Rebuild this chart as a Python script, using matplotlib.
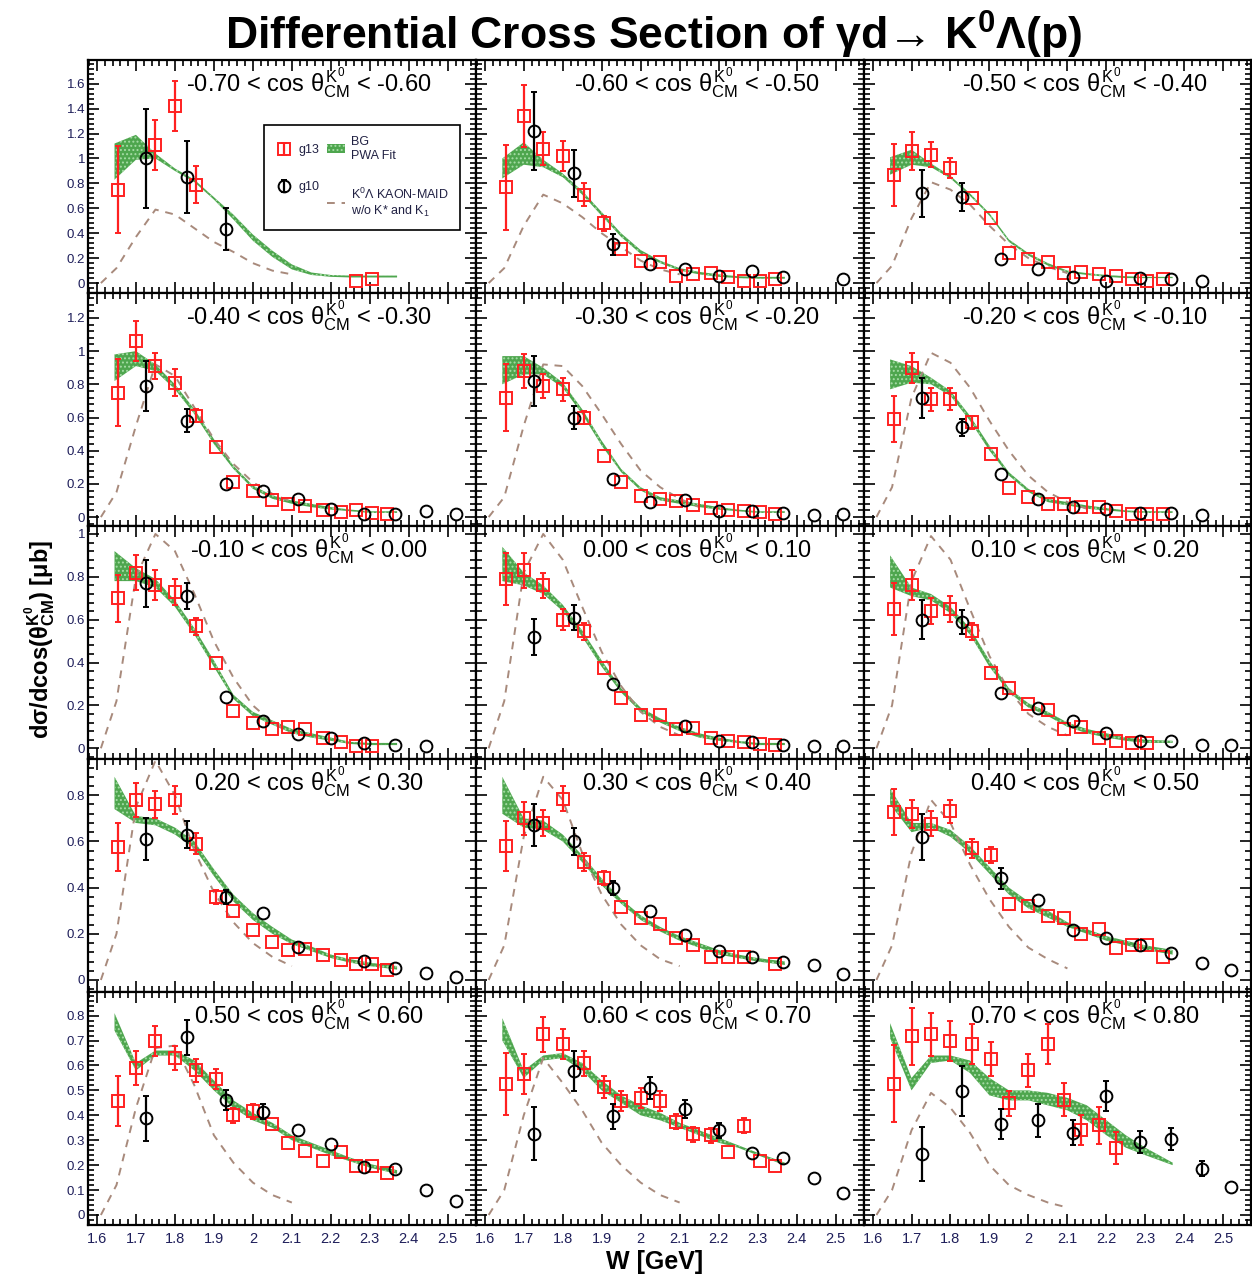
import numpy as np
import matplotlib
matplotlib.use("Agg")
import matplotlib.pyplot as plt
from matplotlib.ticker import MultipleLocator, AutoMinorLocator, FormatStrFormatter

plt.rcParams['font.family'] = ['Liberation Sans', 'DejaVu Sans']
plt.rcParams['mathtext.fontset'] = 'custom'
plt.rcParams['mathtext.rm'] = 'Liberation Sans'
plt.rcParams['mathtext.it'] = 'Liberation Sans'
plt.rcParams['mathtext.bf'] = 'Liberation Sans:bold'
plt.rcParams['hatch.linewidth'] = 0.9

nan = np.nan

# cos(theta) bins, one per panel (row major)
bins_lo = [-0.70, -0.60, -0.50, -0.40, -0.30, -0.20, -0.10, 0.00, 0.10, 0.20, 0.30, 0.40, 0.50, 0.60, 0.70]
bins_hi = [-0.60, -0.50, -0.40, -0.30, -0.20, -0.10, 0.00, 0.10, 0.20, 0.30, 0.40, 0.50, 0.60, 0.70, 0.80]

# g13 (red squares)
w_g13 = [1.655, 1.70, 1.75, 1.80, 1.855, 1.905, 1.95, 2.00, 2.05, 2.09, 2.135, 2.18, 2.225, 2.265, 2.305, 2.345]
g13_y = [
    [0.75, nan, 1.11, 1.42, 0.79, nan, nan, nan, nan, nan, nan, nan, nan, 0.02, 0.03, nan],
    [0.77, 1.34, 1.08, 1.02, 0.71, 0.48, 0.27, 0.175, 0.17, 0.055, 0.07, 0.08, 0.045, 0.02, 0.015, 0.03],
    [0.87, 1.06, 1.03, 0.92, 0.68, 0.52, 0.24, 0.19, 0.17, 0.08, 0.09, 0.07, 0.055, 0.03, 0.015, 0.03],
    [0.75, 1.06, 0.91, 0.81, 0.61, 0.42, 0.21, 0.16, 0.10, 0.08, 0.065, 0.045, 0.03, 0.04, 0.025, 0.02],
    [0.72, 0.88, 0.79, 0.77, 0.60, 0.37, 0.21, 0.126, 0.106, 0.096, 0.07, 0.056, 0.04, 0.035, 0.03, 0.02],
    [0.59, 0.90, 0.71, 0.71, 0.57, 0.38, 0.177, 0.12, 0.08, 0.076, 0.06, 0.06, 0.036, 0.02, 0.02, 0.02],
    [0.70, 0.82, 0.76, 0.73, 0.57, 0.40, 0.175, 0.12, 0.09, 0.10, 0.09, 0.046, 0.028, 0.012, 0.01, nan],
    [0.79, 0.83, 0.76, 0.60, 0.545, 0.375, 0.236, 0.156, 0.156, 0.09, 0.093, 0.05, 0.035, 0.028, 0.02, 0.015],
    [0.65, 0.76, 0.64, 0.65, 0.545, 0.35, 0.28, 0.205, 0.18, 0.09, 0.097, 0.05, 0.035, 0.025, 0.025, nan],
    [0.576, 0.78, 0.76, 0.78, 0.59, 0.36, 0.30, 0.218, 0.165, 0.13, 0.135, 0.107, 0.085, 0.07, 0.068, 0.045],
    [0.58, 0.70, 0.68, 0.785, 0.51, 0.44, 0.316, 0.27, 0.244, 0.18, 0.15, 0.10, 0.10, 0.10, nan, 0.068],
    [0.727, 0.72, 0.677, 0.73, 0.57, 0.54, 0.33, 0.32, 0.275, 0.27, 0.20, 0.22, 0.14, 0.153, 0.15, 0.10],
    [0.456, 0.59, 0.70, 0.63, 0.58, 0.544, 0.40, 0.417, 0.367, 0.29, 0.258, 0.218, 0.252, 0.197, 0.195, 0.167],
    [0.527, 0.567, 0.725, 0.687, 0.608, 0.513, 0.458, 0.47, 0.456, 0.374, 0.324, 0.32, 0.254, 0.358, 0.218, 0.197],
    [0.527, 0.717, 0.725, 0.70, 0.687, 0.626, 0.449, 0.58, 0.687, 0.463, 0.34, 0.36, 0.268, nan, nan, nan],
]
g13_err = [
    [0.35, 0, 0.20, 0.20, 0.15, 0, 0, 0, 0, 0, 0, 0, 0, 0.01, 0.01, 0],
    [0.34, 0.25, 0.13, 0.12, 0.09, 0.06, 0.03, 0.02, 0.02, 0.015, 0.015, 0.015, 0.01, 0.01, 0.01, 0.01],
    [0.25, 0.15, 0.10, 0.08, 0.05, 0.04, 0.02, 0.02, 0.02, 0.015, 0.015, 0.01, 0.01, 0.01, 0.01, 0.01],
    [0.20, 0.12, 0.08, 0.08, 0.04, 0.03, 0.02, 0.02, 0.015, 0.015, 0.01, 0.01, 0.01, 0.01, 0.01, 0.01],
    [0.20, 0.10, 0.07, 0.07, 0.04, 0.03, 0.02, 0.015, 0.015, 0.015, 0.01, 0.01, 0.01, 0.01, 0.01, 0.01],
    [0.14, 0.09, 0.07, 0.065, 0.04, 0.03, 0.02, 0.015, 0.015, 0.015, 0.01, 0.01, 0.01, 0.01, 0.01, 0.01],
    [0.11, 0.08, 0.07, 0.06, 0.04, 0.03, 0.02, 0.015, 0.015, 0.015, 0.01, 0.01, 0.01, 0.01, 0.01, 0],
    [0.12, 0.08, 0.06, 0.05, 0.04, 0.03, 0.02, 0.015, 0.015, 0.015, 0.01, 0.01, 0.01, 0.01, 0.01, 0.01],
    [0.12, 0.07, 0.06, 0.06, 0.04, 0.03, 0.02, 0.02, 0.015, 0.015, 0.01, 0.01, 0.01, 0.01, 0.01, 0],
    [0.105, 0.075, 0.06, 0.06, 0.045, 0.03, 0.025, 0.02, 0.015, 0.015, 0.015, 0.01, 0.01, 0.01, 0.01, 0.01],
    [0.11, 0.07, 0.055, 0.055, 0.04, 0.03, 0.025, 0.02, 0.02, 0.015, 0.015, 0.01, 0.01, 0.01, 0, 0.01],
    [0.10, 0.06, 0.055, 0.05, 0.04, 0.035, 0.025, 0.02, 0.02, 0.02, 0.015, 0.015, 0.015, 0.015, 0.01, 0.01],
    [0.10, 0.07, 0.06, 0.05, 0.045, 0.04, 0.03, 0.03, 0.025, 0.02, 0.02, 0.015, 0.015, 0.015, 0.015, 0.01],
    [0.125, 0.08, 0.07, 0.06, 0.05, 0.045, 0.04, 0.04, 0.04, 0.03, 0.03, 0.03, 0.025, 0.03, 0.02, 0.02],
    [0.155, 0.115, 0.085, 0.08, 0.08, 0.07, 0.05, 0.065, 0.08, 0.065, 0.06, 0.075, 0.065, 0, 0, 0],
]

# g10 (black circles)
w_g10 = [1.727, 1.83, 1.93, 2.025, 2.115, 2.20, 2.285, 2.365, 2.445, 2.52]
g10_y = [
    [1.00, 0.85, 0.435, nan, nan, nan, nan, nan, nan, nan],
    [1.22, 0.88, 0.31, 0.15, 0.11, 0.055, 0.095, 0.05, nan, 0.03],
    [0.72, 0.69, 0.19, 0.11, 0.045, 0.015, 0.04, 0.03, 0.015, nan],
    [0.79, 0.58, 0.20, 0.157, 0.11, 0.046, 0.02, 0.02, 0.036, 0.02],
    [0.82, 0.60, 0.227, 0.092, 0.10, 0.036, 0.036, 0.026, 0.012, 0.016],
    [0.72, 0.54, 0.257, 0.106, 0.06, 0.046, 0.026, 0.026, 0.012, nan],
    [0.77, 0.71, 0.24, 0.128, 0.066, 0.046, 0.025, 0.015, 0.01, nan],
    [0.52, 0.61, 0.30, nan, 0.105, 0.035, 0.028, 0.015, 0.01, 0.01],
    [0.60, 0.59, 0.256, 0.19, 0.128, 0.07, 0.035, 0.035, 0.015, 0.015],
    [0.61, 0.63, 0.36, 0.29, 0.143, nan, 0.082, 0.053, 0.03, 0.013],
    [0.67, 0.60, 0.40, 0.30, 0.196, 0.124, 0.10, 0.078, 0.064, 0.027],
    [0.62, nan, 0.44, 0.345, 0.215, 0.182, 0.15, 0.117, 0.075, 0.042],
    [0.388, 0.714, 0.463, 0.415, 0.34, 0.286, 0.193, 0.184, 0.10, 0.057],
    [0.327, 0.578, 0.397, 0.51, 0.426, 0.34, 0.249, 0.23, 0.147, 0.088],
    [0.245, 0.497, 0.365, 0.38, 0.33, 0.476, 0.293, 0.306, 0.186, 0.113],
]
g10_err = [
    [0.40, 0.29, 0.17, 0, 0, 0, 0, 0, 0, 0],
    [0.31, 0.19, 0.085, 0.03, 0.02, 0.02, 0.02, 0.015, 0, 0.01],
    [0.19, 0.11, 0.02, 0.02, 0.015, 0.01, 0.01, 0.01, 0.01, 0],
    [0.15, 0.07, 0.02, 0.02, 0.015, 0.01, 0.01, 0.01, 0.01, 0.01],
    [0.15, 0.07, 0.02, 0.015, 0.015, 0.01, 0.01, 0.01, 0.01, 0.01],
    [0.12, 0.05, 0.02, 0.015, 0.01, 0.01, 0.01, 0.01, 0.01, 0],
    [0.11, 0.06, 0.02, 0.015, 0.01, 0.01, 0.01, 0.01, 0.01, 0],
    [0.085, 0.06, 0.02, 0, 0.015, 0.01, 0.01, 0.01, 0.01, 0.01],
    [0.09, 0.055, 0.02, 0.015, 0.015, 0.01, 0.01, 0.01, 0.01, 0.01],
    [0.09, 0.06, 0.03, 0.02, 0.015, 0, 0.01, 0.01, 0.01, 0.01],
    [0.09, 0.06, 0.03, 0.02, 0.015, 0.01, 0.01, 0.01, 0.01, 0.01],
    [0.10, 0, 0.045, 0.025, 0.015, 0.015, 0.01, 0.01, 0.01, 0.01],
    [0.09, 0.07, 0.04, 0.03, 0.025, 0.015, 0.015, 0.01, 0.01, 0.01],
    [0.105, 0.08, 0.05, 0.045, 0.035, 0.03, 0.02, 0.02, 0.01, 0.01],
    [0.11, 0.10, 0.06, 0.065, 0.05, 0.06, 0.045, 0.045, 0.03, 0.01],
]

# BG PWA fit band
w_band = [1.645, 1.70, 1.75, 1.80, 1.85, 1.90, 1.95, 2.00, 2.05, 2.10, 2.15, 2.20, 2.25, 2.30, 2.37]
band_lo = [
    [0.83, 0.99, 1.00, 0.90, 0.81, 0.67, 0.51, 0.34, 0.21, 0.11, 0.065, 0.05, 0.045, 0.045, 0.045],
    [0.84, 0.95, 0.93, 0.85, 0.71, 0.54, 0.37, 0.235, 0.16, 0.10, 0.07, 0.05, 0.04, 0.035, 0.035],
    [0.87, 0.95, 0.93, 0.84, 0.70, 0.54, 0.33, 0.22, 0.14, 0.085, 0.065, 0.05, 0.04, 0.04, 0.04],
    [0.82, 0.91, 0.88, 0.77, 0.62, 0.44, 0.29, 0.17, 0.11, 0.08, 0.06, 0.045, 0.035, 0.025, 0.025],
    [0.80, 0.86, 0.86, 0.78, 0.62, 0.43, 0.27, 0.16, 0.10, 0.08, 0.06, 0.045, 0.035, 0.025, 0.025],
    [0.77, 0.81, 0.80, 0.73, 0.58, 0.40, 0.25, 0.15, 0.09, 0.07, 0.05, 0.04, 0.03, 0.025, 0.025],
    [0.78, 0.78, 0.75, 0.66, 0.53, 0.38, 0.23, 0.15, 0.11, 0.07, 0.05, 0.035, 0.02, 0.015, 0.015],
    [0.78, 0.76, 0.72, 0.64, 0.52, 0.38, 0.26, 0.17, 0.12, 0.08, 0.05, 0.035, 0.025, 0.015, 0.015],
    [0.75, 0.71, 0.69, 0.63, 0.53, 0.38, 0.26, 0.19, 0.15, 0.10, 0.07, 0.05, 0.035, 0.025, 0.025],
    [0.74, 0.68, 0.67, 0.63, 0.57, 0.45, 0.34, 0.26, 0.20, 0.155, 0.125, 0.095, 0.075, 0.06, 0.045],
    [0.72, 0.66, 0.65, 0.60, 0.51, 0.41, 0.33, 0.26, 0.21, 0.17, 0.14, 0.11, 0.095, 0.08, 0.065],
    [0.76, 0.64, 0.66, 0.62, 0.55, 0.46, 0.37, 0.31, 0.27, 0.23, 0.20, 0.17, 0.15, 0.13, 0.11],
    [0.74, 0.58, 0.64, 0.64, 0.58, 0.50, 0.43, 0.38, 0.35, 0.30, 0.27, 0.24, 0.215, 0.19, 0.165],
    [0.70, 0.55, 0.62, 0.63, 0.58, 0.50, 0.45, 0.40, 0.38, 0.35, 0.32, 0.29, 0.27, 0.24, 0.20],
    [0.71, 0.50, 0.61, 0.62, 0.57, 0.48, 0.46, 0.46, 0.44, 0.42, 0.38, 0.32, 0.27, 0.24, 0.20],
]
band_hi = [
    [1.12, 1.19, 1.04, 0.92, 0.83, 0.69, 0.55, 0.39, 0.26, 0.15, 0.085, 0.065, 0.06, 0.06, 0.06],
    [1.00, 1.13, 0.99, 0.88, 0.74, 0.57, 0.40, 0.265, 0.18, 0.12, 0.09, 0.07, 0.055, 0.05, 0.05],
    [1.01, 1.07, 0.96, 0.86, 0.72, 0.56, 0.35, 0.24, 0.16, 0.10, 0.08, 0.065, 0.055, 0.05, 0.05],
    [0.98, 1.00, 0.92, 0.80, 0.65, 0.47, 0.31, 0.19, 0.13, 0.10, 0.08, 0.06, 0.045, 0.035, 0.035],
    [0.97, 0.97, 0.90, 0.81, 0.65, 0.46, 0.29, 0.18, 0.12, 0.10, 0.08, 0.06, 0.045, 0.035, 0.035],
    [0.95, 0.91, 0.84, 0.76, 0.61, 0.43, 0.27, 0.17, 0.11, 0.09, 0.07, 0.055, 0.04, 0.035, 0.035],
    [0.92, 0.84, 0.79, 0.69, 0.56, 0.41, 0.25, 0.17, 0.13, 0.09, 0.07, 0.05, 0.03, 0.025, 0.025],
    [0.94, 0.82, 0.76, 0.67, 0.55, 0.41, 0.28, 0.19, 0.14, 0.10, 0.07, 0.05, 0.035, 0.025, 0.025],
    [0.90, 0.75, 0.72, 0.66, 0.56, 0.41, 0.28, 0.21, 0.17, 0.12, 0.09, 0.07, 0.05, 0.04, 0.035],
    [0.88, 0.71, 0.70, 0.66, 0.60, 0.48, 0.37, 0.29, 0.23, 0.175, 0.145, 0.11, 0.09, 0.075, 0.06],
    [0.88, 0.70, 0.69, 0.63, 0.54, 0.44, 0.35, 0.28, 0.23, 0.19, 0.16, 0.13, 0.11, 0.095, 0.08],
    [0.83, 0.68, 0.68, 0.65, 0.58, 0.49, 0.40, 0.34, 0.30, 0.25, 0.22, 0.19, 0.17, 0.15, 0.13],
    [0.81, 0.61, 0.66, 0.66, 0.62, 0.54, 0.46, 0.41, 0.37, 0.32, 0.29, 0.26, 0.23, 0.205, 0.18],
    [0.79, 0.58, 0.64, 0.65, 0.61, 0.54, 0.48, 0.44, 0.41, 0.37, 0.34, 0.31, 0.28, 0.25, 0.21],
    [0.77, 0.55, 0.64, 0.64, 0.62, 0.55, 0.50, 0.50, 0.49, 0.47, 0.44, 0.38, 0.32, 0.27, 0.21],
]

# KAON-MAID w/o K* and K1 (dashed)
w_maid = [1.61, 1.65, 1.70, 1.75, 1.80, 1.85, 1.90, 1.95, 2.00, 2.05, 2.10, 2.15]
maid_y = [
    [0.0, 0.12, 0.37, 0.59, 0.55, 0.44, 0.33, 0.25, 0.16, 0.10, 0.07, nan],
    [0.0, 0.12, 0.46, 0.71, 0.64, 0.53, 0.40, 0.29, 0.18, 0.11, 0.07, nan],
    [0.0, 0.14, 0.52, 0.81, 0.75, 0.63, 0.46, 0.31, 0.20, 0.13, 0.08, nan],
    [0.0, 0.15, 0.55, 0.92, 0.85, 0.66, 0.47, 0.32, 0.21, 0.14, 0.09, nan],
    [0.0, 0.12, 0.55, 0.92, 0.91, 0.79, 0.62, 0.44, 0.28, 0.18, 0.11, 0.06],
    [0.0, 0.18, 0.72, 0.99, 0.93, 0.78, 0.58, 0.40, 0.25, 0.15, 0.09, 0.05],
    [0.0, 0.22, 0.80, 1.00, 0.92, 0.72, 0.50, 0.33, 0.20, 0.12, 0.07, nan],
    [0.0, 0.22, 0.82, 1.00, 0.88, 0.66, 0.45, 0.29, 0.17, 0.10, 0.06, nan],
    [0.0, 0.20, 0.78, 0.99, 0.88, 0.65, 0.43, 0.27, 0.16, 0.10, 0.06, nan],
    [0.0, 0.20, 0.75, 0.95, 0.80, 0.56, 0.38, 0.25, 0.16, 0.10, 0.06, nan],
    [0.0, 0.15, 0.62, 0.88, 0.78, 0.55, 0.37, 0.24, 0.15, 0.09, 0.06, nan],
    [0.0, 0.15, 0.55, 0.78, 0.68, 0.50, 0.35, 0.23, 0.14, 0.09, 0.05, nan],
    [0.0, 0.12, 0.43, 0.67, 0.68, 0.52, 0.32, 0.21, 0.13, 0.08, 0.05, nan],
    [0.0, 0.10, 0.40, 0.63, 0.53, 0.42, 0.29, 0.20, 0.13, 0.08, 0.05, nan],
    [0.0, 0.10, 0.34, 0.49, 0.43, 0.33, 0.20, 0.12, 0.08, 0.05, 0.03, nan],
]

row_ylim = [(-0.08, 1.79), (-0.054, 1.35), (-0.05, 1.037), (-0.052, 0.957), (-0.04, 0.895)]
row_ystep = [0.2, 0.2, 0.2, 0.2, 0.1]
xlim = (1.577, 2.572)

red = '#ff2020'
navy = '#1e1e5a'
panel_px = 233.0   # panel height in pixels
min_bar_px = 6.5   # bars hidden inside the marker are not drawn


def visible_err(err, ylim):
    e = np.asarray(err, dtype=float)
    ppu = panel_px / (ylim[1] - ylim[0])
    return np.where(e * ppu > min_bar_px, e, nan)


fig, axes = plt.subplots(5, 3, figsize=(12.52, 12.78), dpi=100, sharex=True)
fig.subplots_adjust(left=0.0703, right=0.9995, top=0.953, bottom=0.0415, hspace=0, wspace=0)

handles = None
for i in range(15):
    r, c = divmod(i, 3)
    ax = axes[r, c]
    ylim = row_ylim[r]
    band = ax.fill_between(w_band, band_lo[i], band_hi[i], facecolor='#4ea64e', edgecolor='#a6dca6',
                           hatch='....', linewidth=0, zorder=1)
    maid, = ax.plot(w_maid, maid_y[i], color='#a88a7c', lw=1.4, ls=(0, (4, 3.5)), zorder=2)
    e13 = ax.errorbar(w_g13, g13_y[i], yerr=visible_err(g13_err[i], ylim), fmt='s', ms=8.5, mfc='none',
                      mec=red, mew=1.4, ecolor=red, elinewidth=1.6, capsize=2.5, capthick=1.4, zorder=3)
    e10 = ax.errorbar(w_g10, g10_y[i], yerr=visible_err(g10_err[i], ylim), fmt='o', ms=8.5, mfc='none',
                      mec='black', mew=1.4, ecolor='black', elinewidth=1.6, capsize=2.5, capthick=1.4,
                      zorder=4)
    if i == 0:
        handles = (e13, e10, band, maid)

    ax.set_xlim(*xlim)
    ax.set_ylim(*ylim)
    ax.xaxis.set_major_locator(MultipleLocator(0.1))
    ax.xaxis.set_minor_locator(AutoMinorLocator(5))
    ax.yaxis.set_major_locator(MultipleLocator(row_ystep[r]))
    ax.yaxis.set_minor_locator(AutoMinorLocator(5))
    ax.xaxis.set_major_formatter(FormatStrFormatter('%g'))
    ax.yaxis.set_major_formatter(FormatStrFormatter('%g'))
    ax.tick_params(which='both', direction='in', top=True, right=True, width=1.2,
                   labelcolor=navy)
    ax.tick_params(which='major', length=8)
    ax.tick_params(which='minor', length=4)
    ax.tick_params(axis='x', labelsize=10.5, pad=5)
    ax.tick_params(axis='y', labelsize=9.5, pad=2)
    if c != 0:
        ax.tick_params(axis='y', labelleft=False)
    for s in ax.spines.values():
        s.set_linewidth(1.6)

    label = '%.2f < cos $\\theta^{K^{0}}_{\\mathrm{CM}}$ < %.2f' % (bins_lo[i], bins_hi[i])
    ax.text(0.57, 0.90, label, transform=ax.transAxes, ha='center', va='center', fontsize=17)

leg = axes[0, 0].legend(handles, ['g13', 'g10', 'BG\nPWA Fit', 'K$^{0}$Λ KAON-MAID\nw/o K* and K$_{1}$'],
                        ncol=2, loc='upper left', bbox_to_anchor=(0.437, 0.75), fontsize=9,
                        frameon=True, fancybox=False, framealpha=1, edgecolor='black',
                        handlelength=1.4, handletextpad=0.5, columnspacing=0.6, labelspacing=2.0,
                        borderpad=0.9)
leg.get_frame().set_linewidth(1.2)
for t in leg.get_texts():
    t.set_color('#222244')

fig.text(0.522, 0.9726, 'Differential Cross Section of γd→ K$^{\\mathbf{0}}$Λ(p)', ha='center', va='center',
         fontsize=32, fontweight='bold')
fig.text(0.032, 0.5, 'dσ/dcos($\\mathbf{\\theta^{K^{0}}_{CM}}$) [μb]', rotation=90, ha='center', va='center',
         fontsize=17, fontweight='bold')
fig.text(0.523, 0.0125, 'W [GeV]', ha='center', va='center', fontsize=18, fontweight='bold')

fig.savefig('out.png', dpi=100)
